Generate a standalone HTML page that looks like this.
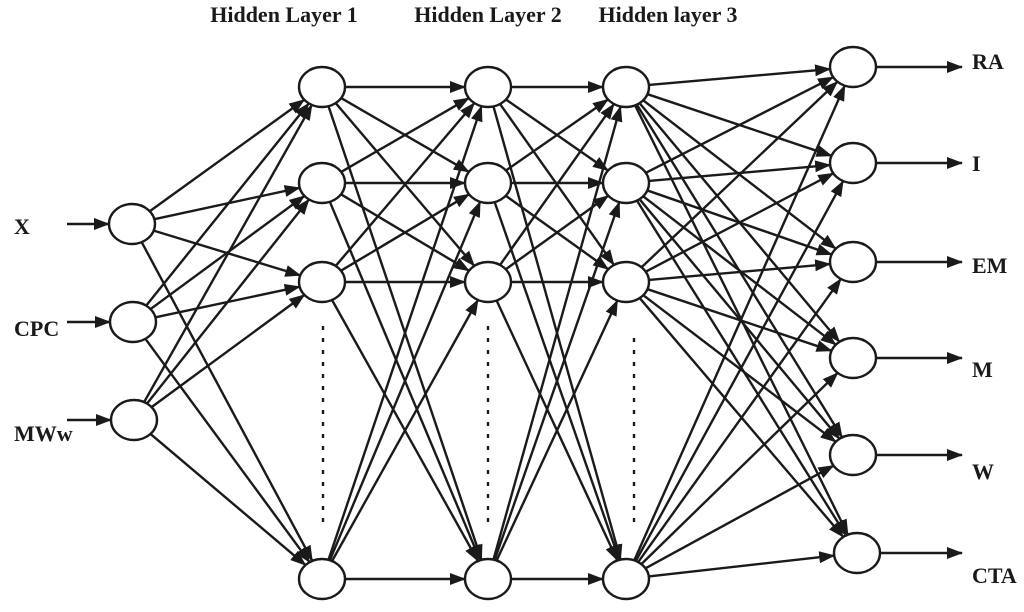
<!DOCTYPE html>
<html><head><meta charset="utf-8"><style>
html,body{margin:0;padding:0;background:#fff;}
svg{display:block}
text{font-family:"Liberation Serif",serif;font-weight:bold;fill:#1a1a1a}
</style></head><body>
<svg id="s" width="1024" height="612" viewBox="0 0 1024 612" xmlns="http://www.w3.org/2000/svg">
<defs><marker id="a" viewBox="0 0 16 12" refX="15" refY="6" markerWidth="16" markerHeight="12" markerUnits="userSpaceOnUse" orient="auto"><path d="M0,0 L16,6 L0,12 z" fill="#1a1a1a"/></marker></defs>
<g id="e" stroke="#1a1a1a" stroke-width="2.4" fill="none"></g>
<g id="n" stroke="#1a1a1a" stroke-width="2.4" fill="#fff"></g>
<text x="284" y="22" font-size="22" text-anchor="middle">Hidden Layer 1</text>
<text x="488" y="22" font-size="22" text-anchor="middle">Hidden Layer 2</text>
<text x="668" y="22" font-size="22" text-anchor="middle">Hidden layer 3</text>
<text x="14" y="234" font-size="22">X</text>
<text x="14" y="336" font-size="22">CPC</text>
<text x="14" y="441" font-size="22">MWw</text>
<text x="972" y="69" font-size="22">RA</text>
<text x="972" y="171" font-size="22">I</text>
<text x="972" y="273" font-size="22">EM</text>
<text x="972" y="377" font-size="22">M</text>
<text x="972" y="479" font-size="22">W</text>
<text x="972" y="583" font-size="22">CTA</text>
<g stroke="#1a1a1a" stroke-width="2.4" stroke-dasharray="4,8">
<line x1="323" y1="326" x2="323" y2="530"/>
<line x1="488" y1="326" x2="488" y2="530"/>
<line x1="634" y1="338" x2="634" y2="530"/>
</g>
</svg>
<script>
var RX=23,RY=20;
var L=[
 [[132,224],[133,322],[134,420]],
 [[322,87],[322,183],[322,282],[322,579]],
 [[488,87],[488,183],[488,282],[488,579]],
 [[626,87],[626,183],[626,282],[626,579]],
 [[853,67],[853,163],[853,262],[853,358],[853,455],[857,553]]
];
var NS="http://www.w3.org/2000/svg",E=document.getElementById('e'),N=document.getElementById('n');
function bd(c,dx,dy){var t=1/Math.sqrt(dx*dx/(RX*RX)+dy*dy/(RY*RY));return [c[0]+dx*t,c[1]+dy*t];}
function line(x1,y1,x2,y2){var l=document.createElementNS(NS,'line');l.setAttribute('x1',x1);l.setAttribute('y1',y1);l.setAttribute('x2',x2);l.setAttribute('y2',y2);l.setAttribute('marker-end','url(#a)');E.appendChild(l);}
for(var i=0;i<4;i++)for(var a=0;a<L[i].length;a++)for(var b=0;b<L[i+1].length;b++){
 var s=L[i][a],t=L[i+1][b],dx=t[0]-s[0],dy=t[1]-s[1];
 var p=bd(s,dx,dy),q=bd(t,-dx,-dy);line(p[0],p[1],q[0],q[1]);}
L[0].forEach(function(c){line(67,c[1],c[0]-RX,c[1]);});
L[4].forEach(function(c){line(c[0]+RX,c[1],962,c[1]);});
L.forEach(function(l){l.forEach(function(c){var e=document.createElementNS(NS,'ellipse');e.setAttribute('cx',c[0]);e.setAttribute('cy',c[1]);e.setAttribute('rx',RX);e.setAttribute('ry',RY);N.appendChild(e);});});
</script>
</body></html>
